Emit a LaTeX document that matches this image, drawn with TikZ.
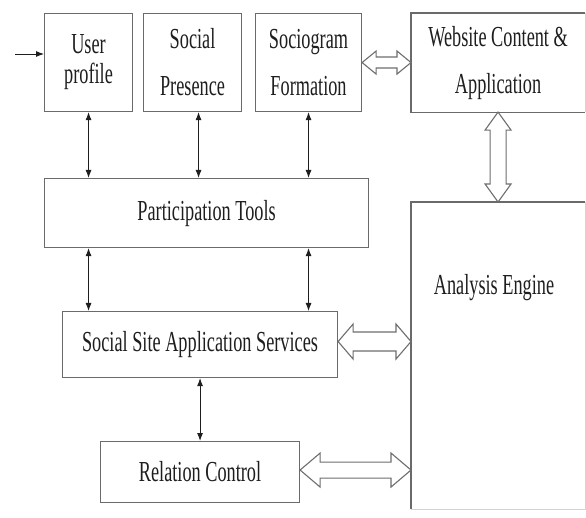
\documentclass[tikz,border=0pt]{standalone}
\usepackage{fontspec}
\setmainfont{Liberation Serif}[FakeStretch=0.63]
\usetikzlibrary{arrows.meta,calc}
\definecolor{boxgray}{HTML}{6A6A6A}
\definecolor{faint}{HTML}{D4D4D4}
\definecolor{hollowgray}{HTML}{6E6E6E}
\definecolor{ink}{HTML}{1E1E1E}
\newcommand\hollowH[5]{%
  \draw[hollow] let \p1=#1, \p2=#2 in
    (\x1,\y1) -- (\x1+#5pt,\y1+#4pt) -- (\x1+#5pt,\y1+#3pt) -- (\x2-#5pt,\y1+#3pt)
    -- (\x2-#5pt,\y1+#4pt) -- (\x2,\y1) -- (\x2-#5pt,\y1-#4pt) -- (\x2-#5pt,\y1-#3pt)
    -- (\x1+#5pt,\y1-#3pt) -- (\x1+#5pt,\y1-#4pt) -- cycle;}
\newcommand\hollowV[5]{%
  \draw[hollow] let \p1=#1, \p2=#2 in
    (\x1,\y1) -- (\x1+#4pt,\y1-#5pt) -- (\x1+#3pt,\y1-#5pt) -- (\x1+#3pt,\y2+#5pt)
    -- (\x1+#4pt,\y2+#5pt) -- (\x1,\y2) -- (\x1-#4pt,\y2+#5pt) -- (\x1-#3pt,\y2+#5pt)
    -- (\x1-#3pt,\y1-#5pt) -- (\x1-#4pt,\y1-#5pt) -- cycle;}
\begin{document}
\begin{tikzpicture}[x=1pt,y=-1pt,
  box/.style={draw=boxgray,line width=1.1pt,inner sep=0pt,anchor=north west,
    align=center,text=ink,font=\fontsize{29}{30}\selectfont},
  lbl/.style={text=ink,font=\fontsize{29}{30}\selectfont,inner sep=0pt},
  boxline/.style={draw=boxgray,line width=1.1pt},
  faintline/.style={draw=faint,line width=1pt},
  biarrow/.style={ink,line width=0.9pt,{Latex[length=8pt,width=6pt]}-{Latex[length=8pt,width=6pt]}},
  inarrow/.style={ink,line width=0.9pt,-{Latex[length=8pt,width=6pt]}},
  hollow/.style={draw=hollowgray,line width=1.1pt,fill=white,line join=miter}]
\useasboundingbox (0,0) rectangle (586,518);
\fill[white] (0,0) rectangle (586,518);
% boxes
\node[box,minimum width=88pt,minimum height=98pt] (up) at (44,13) {User\\profile};
\node[box,minimum width=98pt,minimum height=98pt] (sp) at (143,13) {Social\\[17pt]Presence};
\node[box,minimum width=106pt,minimum height=98pt] (sf) at (255,13) {Sociogram\\[17pt]Formation};
\node[box,draw=none,minimum width=173pt,minimum height=98pt] (wc) at (411,13) {Website Content \&\\[17pt]Application};
\draw[boxline] (wc.north east) -- (wc.north west) -- (wc.south west) -- (wc.south east);
\draw[faintline] (wc.north east) -- (wc.south east);
\node[box,minimum width=324pt,minimum height=69pt] (pt) at (44,178) {Participation Tools};
\node[box,minimum width=275pt,minimum height=66pt] (ssas) at (62,311) {Social Site Application Services};
\node[box,minimum width=199pt,minimum height=61pt] (rc) at (100,441) {Relation Control};
\node[box,draw=none,minimum width=173pt,minimum height=306pt] (ae) at (411,202) {};
\draw[boxline] (ae.south west) -- (ae.north west) -- (ae.north east);
\draw[faintline] (ae.north east) -- (ae.south east) -- (ae.south west);
\node[lbl] (aet) at (494,288) {Analysis Engine};
% input arrow
\coordinate (in) at (15,54);
\draw[inarrow] (in) -- (in -| up.west);
% black double arrows
\coordinate (spb) at ($(sp.south)+(6,0)$);
\draw[biarrow] (up.south) -- (up.south |- pt.north);
\draw[biarrow] (spb) -- (spb |- pt.north);
\draw[biarrow] (sf.south) -- (sf.south |- pt.north);
\draw[biarrow] (pt.south -| up.south) -- (ssas.north -| up.south);
\draw[biarrow] (pt.south -| sf.south) -- (ssas.north -| sf.south);
\draw[biarrow] (ssas.south -| rc.north) -- (rc.north);
% hollow arrows
\coordinate (ssr) at ($(ssas.east)+(0,-3)$);
\coordinate (rcr) at ($(rc.east)+(0,-2)$);
\hollowH{(sf.east)}{(wc.west)}{5.5}{11.5}{14}
\hollowV{(wc.south)}{(ae.north)}{8}{13}{18}
\hollowH{(ssr)}{(ae.west)}{9.5}{17.5}{15}
\hollowH{(rcr)}{(ae.west)}{8}{17}{20}
\end{tikzpicture}
\end{document}
